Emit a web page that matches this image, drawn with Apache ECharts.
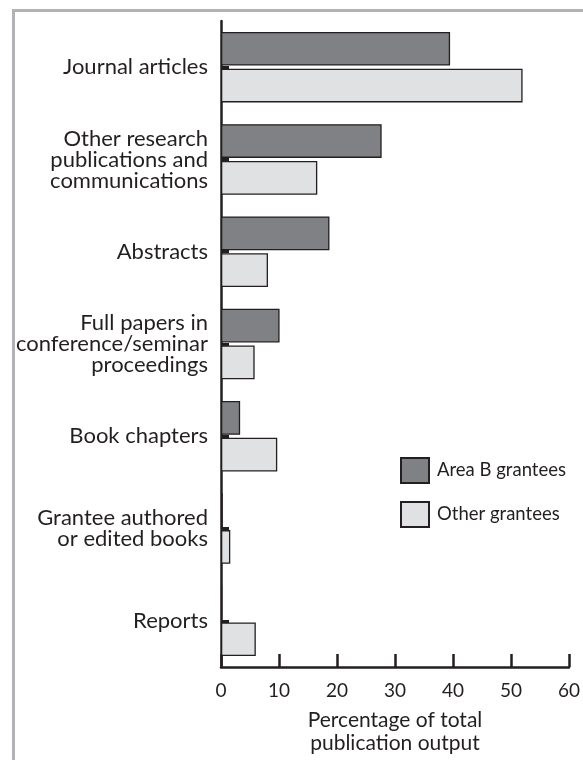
<!DOCTYPE html>
<html>
<head>
    <meta charset="utf-8">
    <title>Publication output</title>
    <script src="https://cdn.jsdelivr.net/npm/echarts@6/dist/echarts.min.js"></script>
    <style>
        body { margin: 0; background: #fff; }
    </style>
</head>
<body>
    <div id="main" style="width: 583px;height:760px;"></div>
    <script type="text/javascript">
        // categories, top to bottom
        var categories = [
            'Journal articles',
            'Other research\npublications and\ncommunications',
            'Abstracts',
            'Full papers in\nconference/seminar\nproceedings',
            'Book chapters',
            'Grantee authored\nor edited books',
            'Reports'
        ];
        var areaB = [39.5, 27.7, 18.7, 10.1, 3.3, 0.3, 0.2];
        var others = [52.0, 16.6, 8.1, 5.8, 9.7, 1.6, 6.0];
        var xTicks = [0, 10, 20, 30, 40, 50, 60];

        var ink = '#231f20';
        var font = 'Lato';

        var myChart = echarts.init(document.getElementById('main'));

        var option = {
            animation: false,
            textStyle: { fontFamily: font, color: ink },
            graphic: [{
                type: 'rect',
                shape: { x: 13.5, y: 10.5, width: 700, height: 900 },
                style: { fill: 'none', stroke: '#b3b3b7', lineWidth: 3 },
                silent: true
            }],
            grid: {
                left: 221,
                right: 11,
                top: 21,
                bottom: 87
            },
            legend: {
                orient: 'vertical',
                left: 400,
                top: 457,
                padding: 0,
                itemWidth: 28,
                itemHeight: 25,
                itemGap: 17,
                icon: 'rect',
                textStyle: { fontFamily: font, fontSize: 18.5, color: ink, padding: [0, 0, 0, 3] },
                data: ['Area B grantees', 'Other grantees']
            },
            xAxis: {
                type: 'value',
                min: xTicks[0],
                max: xTicks[xTicks.length - 1],
                interval: 10,
                name: 'Percentage of total\npublication output',
                nameLocation: 'middle',
                nameGap: 42,
                nameTextStyle: { fontFamily: font, fontSize: 21, lineHeight: 23, color: ink },
                axisLine: { show: true, lineStyle: { color: ink, width: 2.5 } },
                axisTick: { show: true, inside: true, length: 13, lineStyle: { color: ink, width: 2.5 } },
                axisLabel: { fontFamily: font, fontSize: 19, color: ink, margin: 14 },
                splitLine: { show: false }
            },
            yAxis: {
                type: 'category',
                inverse: true,
                data: categories,
                axisLine: { show: true, lineStyle: { color: ink, width: 2.5 } },
                axisTick: { show: true, inside: true, alignWithLabel: true, length: 8, lineStyle: { color: ink, width: 3 } },
                axisLabel: { fontFamily: font, fontSize: 22, lineHeight: 21, color: ink, margin: 13, align: 'right' }
            },
            series: [{
                name: 'Area B grantees',
                type: 'bar',
                data: areaB,
                barGap: '9%',
                barCategoryGap: '23.6%',
                itemStyle: { color: '#808184', borderColor: ink, borderWidth: 1.3 }
            }, {
                name: 'Other grantees',
                type: 'bar',
                data: others,
                itemStyle: { color: '#e0e1e3', borderColor: ink, borderWidth: 1.3 }
            }]
        };

        myChart.setOption(option);
    </script>
</body>
</html>
